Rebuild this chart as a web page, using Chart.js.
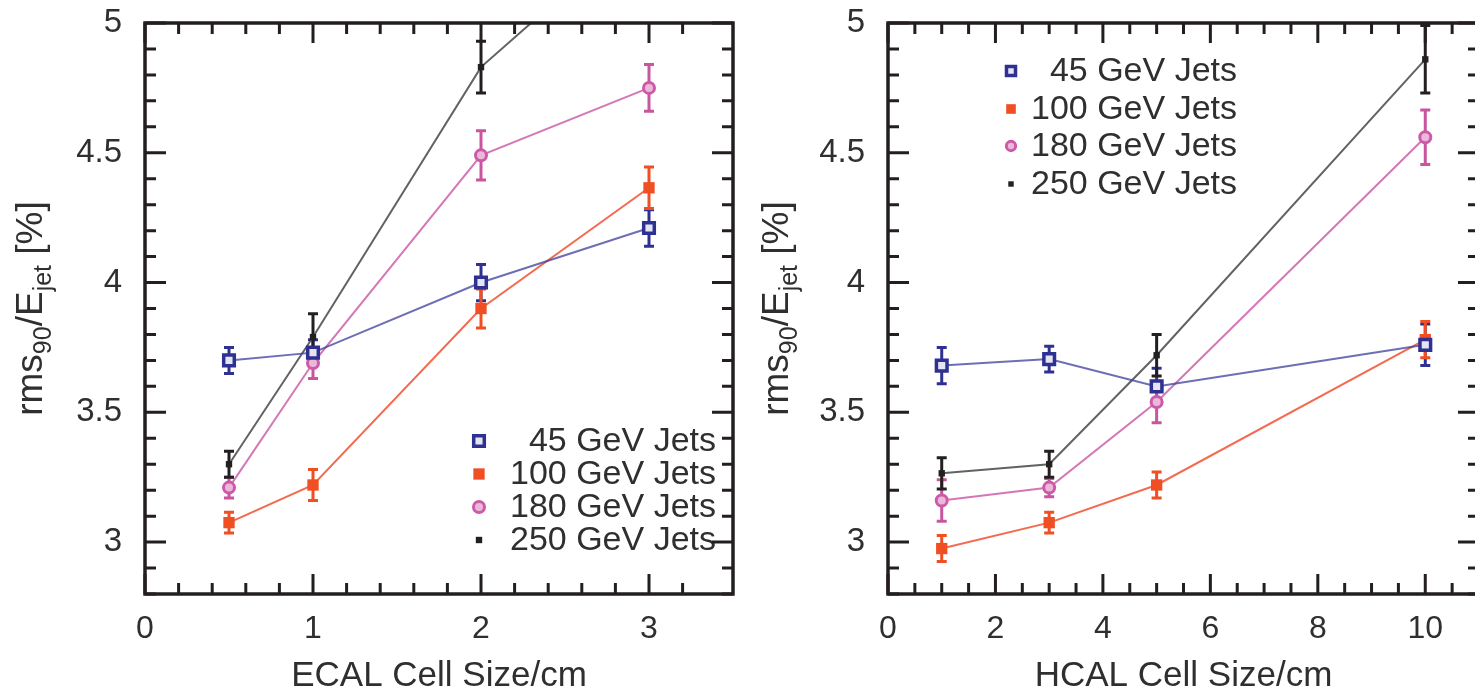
<!DOCTYPE html>
<html>
<head>
<meta charset="utf-8">
<script src="https://cdn.jsdelivr.net/npm/chart.js@4.4.1/dist/chart.umd.min.js"></script>
<style>
html, body { margin: 0; padding: 0; background: #fff; overflow: hidden; width: 1475px; height: 694px; }
#ecalChart { position: absolute; left: 0; top: 0; }
#hcalChart { position: absolute; left: 740px; top: 0; }
</style>
</head>
<body>
<canvas id="ecalChart" width="744" height="694"></canvas>
<canvas id="hcalChart" width="750" height="694"></canvas>
<script>
// series names
var seriesLabels = ['45 GeV Jets', '100 GeV Jets', '180 GeV Jets', '250 GeV Jets'];

// left panel: ECAL cell size (cm)
var ecalSizes = [0.5, 1, 2, 3];
var ecal45  = [3.70, 3.73, 4.00, 4.21];
var ecal100 = [3.075, 3.22, 3.90, 4.365];
var ecal180 = [3.21, 3.69, 4.49, 4.75];
var ecal250 = [3.30, 3.79, 4.83, 5.40];
var ecal45Err  = [0.05, 0.05, 0.07, 0.07];
var ecal100Err = [0.04, 0.06, 0.075, 0.08];
var ecal180Err = [0.04, 0.06, 0.095, 0.09];
var ecal250Err = [0.05, 0.09, 0.10, 0.10];

// right panel: HCAL cell size (cm)
var hcalSizes = [1, 3, 5, 10];
var hcal45  = [3.68, 3.705, 3.60, 3.76];
var hcal100 = [2.975, 3.075, 3.22, 3.78];
var hcal180 = [3.16, 3.21, 3.54, 4.56];
var hcal250 = [3.265, 3.30, 3.72, 4.86];
var hcal45Err  = [0.07, 0.05, 0.07, 0.08];
var hcal100Err = [0.05, 0.04, 0.05, 0.07];
var hcal180Err = [0.08, 0.035, 0.08, 0.105];
var hcal250Err = [0.06, 0.05, 0.08, 0.13];

var FONT = "'Liberation Sans', Arial, Helvetica, sans-serif";
var TXT = '#2f2f2f';
var INK = '#231f20';

function isMult(v, step) {
    var q = v / step;
    return Math.abs(q - Math.round(q)) < 1e-6;
}

function pts(xs, ys) {
    return xs.map(function (x, i) { return {x: x, y: ys[i]}; });
}

function makeDatasets(xs, s45, s100, s180, s250, e45, e100, e180, e250) {
    return [{
        label: seriesLabels[0], data: pts(xs, s45), errors: e45, errColor: '#2e3192',
        borderColor: 'rgba(60,62,155,0.75)', borderWidth: 2,
        pointStyle: 'rect', pointRadius: 7.5, pointBorderWidth: 3.5,
        pointBorderColor: '#2e3192', pointBackgroundColor: '#e4e5f1'
    }, {
        label: seriesLabels[1], data: pts(xs, s100), errors: e100, errColor: '#f04e23',
        borderColor: 'rgba(242,90,60,0.9)', borderWidth: 2,
        pointStyle: 'rect', pointRadius: 8, pointBorderWidth: 0,
        pointBackgroundColor: '#f04e23'
    }, {
        label: seriesLabels[2], data: pts(xs, s180), errors: e180, errColor: '#c9559f',
        borderColor: 'rgba(205,95,170,0.85)', borderWidth: 2,
        pointStyle: 'circle', pointRadius: 5.5, pointBorderWidth: 3,
        pointBorderColor: '#cc5aa8', pointBackgroundColor: '#ecb8da'
    }, {
        label: seriesLabels[3], data: pts(xs, s250), errors: e250, errColor: INK,
        borderColor: 'rgba(70,70,70,0.85)', borderWidth: 2,
        pointStyle: 'rect', pointRadius: 4.5, pointBorderWidth: 0,
        pointBackgroundColor: INK
    }];
}

// error bars from each dataset's errors array, drawn under lines and markers
var errorBars = {
    id: 'errorBars',
    beforeDatasetsDraw: function (chart) {
        var ctx = chart.ctx, a = chart.chartArea, xs = chart.scales.x, ys = chart.scales.y;
        ctx.save();
        ctx.beginPath();
        ctx.rect(a.left, a.top, a.right - a.left, a.bottom - a.top);
        ctx.clip();
        ctx.lineWidth = 3;
        chart.data.datasets.forEach(function (ds) {
            ctx.strokeStyle = ds.errColor;
            ds.data.forEach(function (p, i) {
                var e = ds.errors[i];
                var px = xs.getPixelForValue(p.x);
                var top = ys.getPixelForValue(p.y + e);
                var bot = ys.getPixelForValue(p.y - e);
                ctx.beginPath();
                ctx.moveTo(px, top); ctx.lineTo(px, bot);
                ctx.moveTo(px - 5, top); ctx.lineTo(px + 5, top);
                ctx.moveTo(px - 5, bot); ctx.lineTo(px + 5, bot);
                ctx.stroke();
            });
        });
        ctx.restore();
    }
};

// box frame with inward ticks on all four sides
var frameTicks = {
    id: 'frameTicks',
    afterDraw: function (chart, args, opts) {
        var ctx = chart.ctx, a = chart.chartArea, xs = chart.scales.x, ys = chart.scales.y;
        ctx.save();
        ctx.strokeStyle = INK;
        ctx.lineWidth = 3;
        ctx.beginPath();
        xs.ticks.forEach(function (t) {
            if (!isMult(t.value, opts.xMinor)) return;
            var px = xs.getPixelForValue(t.value);
            var len = isMult(t.value, opts.xMajor) ? 20 : 11;
            ctx.moveTo(px, a.bottom); ctx.lineTo(px, a.bottom - len);
            ctx.moveTo(px, a.top); ctx.lineTo(px, a.top + len);
        });
        ys.ticks.forEach(function (t) {
            if (!isMult(t.value, 0.1)) return;
            var py = ys.getPixelForValue(t.value);
            var len = isMult(t.value, 0.5) ? 21 : 11;
            ctx.moveTo(a.left, py); ctx.lineTo(a.left + len, py);
            ctx.moveTo(a.right, py); ctx.lineTo(a.right - len, py);
        });
        ctx.stroke();
        ctx.lineWidth = 3.5;
        ctx.strokeRect(a.left, a.top, a.right - a.left, a.bottom - a.top);
        ctx.restore();
    }
};

// legend with right-aligned labels, markers taken from the datasets
var boxLegend = {
    id: 'boxLegend',
    afterDatasetsDraw: function (chart, args, opts) {
        var ctx = chart.ctx;
        ctx.save();
        ctx.font = '34px ' + FONT;
        ctx.textAlign = 'right';
        ctx.textBaseline = 'middle';
        chart.data.datasets.forEach(function (ds, i) {
            var y = opts.rows[i];
            ctx.fillStyle = ds.pointBackgroundColor;
            ctx.strokeStyle = ds.pointBorderColor || ds.pointBackgroundColor;
            ctx.lineWidth = ds.pointBorderWidth;
            Chart.helpers.drawPoint(ctx, {
                pointStyle: ds.pointStyle, radius: ds.pointRadius * opts.scale,
                borderWidth: ds.pointBorderWidth, rotation: 0
            }, opts.markerX, y);
            ctx.fillStyle = TXT;
            ctx.fillText(ds.label, opts.textRight, y + 1);
        });
        ctx.restore();
    }
};

// rotated y title: rms_90 / E_jet [%]
var yTitle = {
    id: 'yTitle',
    afterDraw: function (chart, args, opts) {
        var ctx = chart.ctx, a = chart.chartArea;
        var parts = [['rms', 0], ['90', 1], ['/E', 0], ['jet', 1], [' [%]', 0]];
        var big = '37px ' + FONT, small = '25px ' + FONT;
        ctx.save();
        var total = 0;
        parts.forEach(function (p) {
            ctx.font = p[1] ? small : big;
            total += ctx.measureText(p[0]).width;
        });
        ctx.translate(a.left - opts.offset, (a.top + a.bottom) / 2);
        ctx.rotate(-Math.PI / 2);
        ctx.fillStyle = TXT;
        ctx.textBaseline = 'alphabetic';
        ctx.textAlign = 'left';
        var x = -total / 2;
        parts.forEach(function (p) {
            ctx.font = p[1] ? small : big;
            ctx.fillText(p[0], x, p[1] ? 9 : 0);
            x += ctx.measureText(p[0]).width;
        });
        ctx.restore();
    }
};

function makeOptions(xMax, xMinor, xMajor, xTitle, yWidth, padRight, legendOpts, titleOffset) {
    return {
        responsive: false,
        animation: false,
        events: [],
        layout: {padding: {top: 23, right: padRight, left: 0, bottom: 0}},
        elements: {line: {tension: 0, fill: false}},
        scales: {
            x: {
                type: 'linear', min: 0, max: xMax,
                afterFit: function (s) { s.height = 100; s.paddingLeft = 0; s.paddingRight = 0; },
                grid: {display: false, drawTicks: false},
                border: {display: false},
                ticks: {
                    stepSize: xMinor, autoSkip: false, maxRotation: 0, padding: 16,
                    color: TXT, font: {family: FONT, size: 32},
                    callback: function (v) { return isMult(v, xMajor) ? String(Math.round(v)) : ''; }
                },
                title: {display: true, text: xTitle, color: TXT, padding: 0,
                        font: {family: FONT, size: 35, lineHeight: 1}}
            },
            y: {
                type: 'linear', min: 2.8, max: 5,
                afterFit: function (s) { s.width = yWidth; s.paddingTop = 0; s.paddingBottom = 0; },
                grid: {display: false, drawTicks: false},
                border: {display: false},
                ticks: {
                    stepSize: 0.1, autoSkip: false, padding: 23,
                    color: TXT, font: {family: FONT, size: 33},
                    callback: function (v) { return isMult(v, 0.5) ? String(Math.round(v * 10) / 10) : ''; }
                }
            }
        },
        plugins: {
            legend: {display: false},
            tooltip: {enabled: false},
            frameTicks: {xMinor: xMinor, xMajor: xMajor},
            boxLegend: legendOpts,
            yTitle: {offset: titleOffset}
        }
    };
}

new Chart(document.getElementById('ecalChart'), {
    type: 'line',
    data: {datasets: makeDatasets(ecalSizes, ecal45, ecal100, ecal180, ecal250,
                                  ecal45Err, ecal100Err, ecal180Err, ecal250Err)},
    options: makeOptions(3.5, 0.2, 1, 'ECAL Cell Size/cm', 145, 0,
                         {markerX: 479, textRight: 716, rows: [441, 474, 507, 540], scale: 1}, 103),
    plugins: [errorBars, frameTicks, boxLegend, yTitle]
});

new Chart(document.getElementById('hcalChart'), {
    type: 'line',
    data: {datasets: makeDatasets(hcalSizes, hcal45, hcal100, hcal180, hcal250,
                                  hcal45Err, hcal100Err, hcal180Err, hcal250Err)},
    options: makeOptions(11, 0.5, 2, 'HCAL Cell Size/cm', 148, 0,
                         {markerX: 271, textRight: 497, rows: [71, 109, 146, 184], scale: 0.85}, 100),
    plugins: [errorBars, frameTicks, boxLegend, yTitle]
});
</script>
</body>
</html>
